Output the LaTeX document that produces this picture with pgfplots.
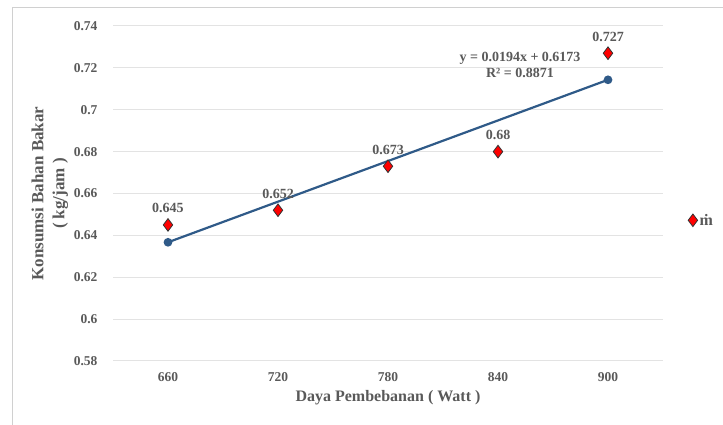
\documentclass[border=0pt]{standalone}
\usepackage{pgfplots}
\pgfplotsset{compat=1.18}
\usepackage{pgfplotstable}
\usepackage{fontspec}
\setmainfont{Liberation Serif}
\definecolor{txt}{HTML}{595959}
\definecolor{gridc}{HTML}{E3E3E3}
\definecolor{trend}{HTML}{2F5A88}
\definecolor{frame}{HTML}{D0D0D0}
\pgfplotstableread{
x y lab
0 0.645 0.645
1 0.652 0.652
2 0.673 0.673
3 0.680 0.68
4 0.727 0.727
}\datatable
\begin{document}
\begin{tikzpicture}[x=1pt,y=1pt]
\path[use as bounding box] (0,0) rectangle (723,425);
\draw[frame,line width=1pt] (12,0) -- (12,417) -- (723,417);
\begin{axis}[
  at={(113pt,64pt)}, anchor=south west,
  scale only axis, width=550pt, height=335pt,
  xmin=-0.5, xmax=4.5, ymin=0.58, ymax=0.74,
  xtick={0,1,2,3,4}, xticklabels={660,720,780,840,900},
  ytick={0.58,0.6,0.62,0.64,0.66,0.68,0.7,0.72,0.74},
  yticklabels={0.58,0.6,0.62,0.64,0.66,0.68,0.7,0.72,0.74},
  ymajorgrids, grid style={gridc, line width=1pt},
  axis line style={draw=none},
  major tick length=0pt,
  ticklabel style={font=\fontsize{13.5}{15}\selectfont\bfseries, text=txt},
  yticklabel style={xshift=-12pt},
  xticklabel style={yshift=-8pt},
  xlabel={Daya Pembebanan ( Watt )},
  xlabel style={font=\fontsize{16}{18}\selectfont\bfseries, text=txt, yshift=-2pt},
  ylabel={\begin{tabular}{c}Konsumsi Bahan Bakar\\[2pt]( kg/jam )\end{tabular}},
  ylabel style={font=\fontsize{17}{19}\selectfont\bfseries, text=txt, yshift=-3pt},
  legend style={at={(1.04,0.42)}, anchor=west, draw=none, fill=none,
    font=\fontsize{16}{17}\selectfont\bfseries, text=txt},
  legend cell align=left,
  clip=false,
]
\addplot[trend, line width=2.2pt, mark=*, mark size=3.2pt, mark options={fill=trend}, forget plot]
  coordinates {(0,0.6367) (4,0.7143)};
\addplot[only marks, mark=diamond*, mark size=6.3pt, mark options={fill=red, draw=black!80, line width=0.8pt},
  nodes near coords, point meta=explicit symbolic,
  every node near coord/.append style={font=\fontsize{14}{15}\selectfont\bfseries, text=txt, yshift=8pt}]
  table[x=x, y=y, meta=lab] {\datatable};
\addlegendentry{\.m}
\node[font=\fontsize{14}{15.5}\selectfont\bfseries, text=txt, align=center] at (axis cs:3.2,0.7215)
  {y = 0.0194x + 0.6173\\R² = 0.8871};
\end{axis}
\end{tikzpicture}
\end{document}
